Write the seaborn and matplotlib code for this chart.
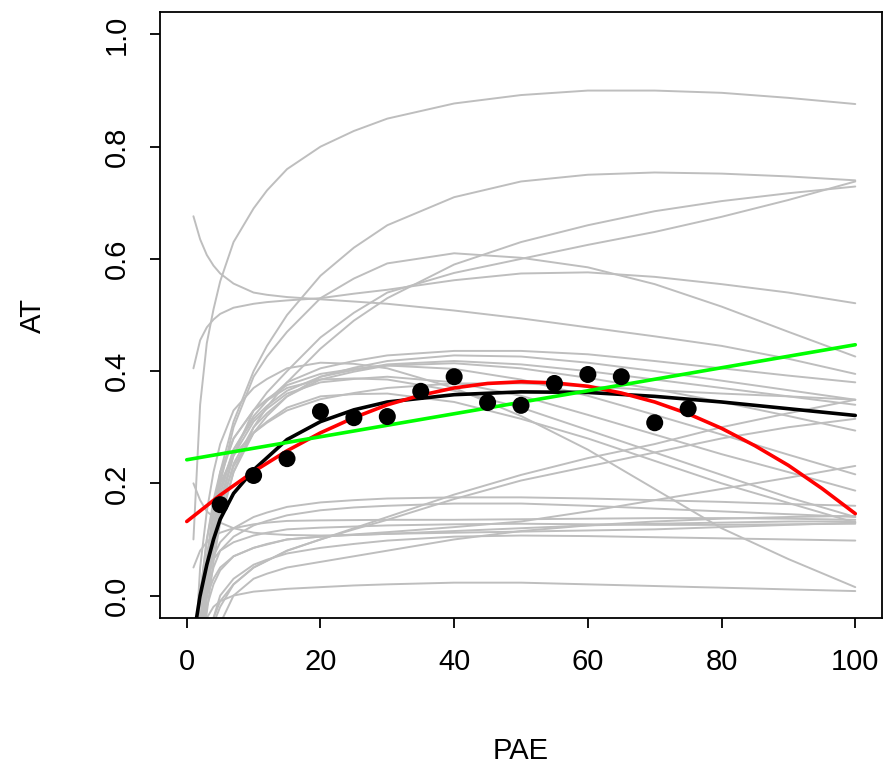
import matplotlib
matplotlib.use("Agg")
import matplotlib.pyplot as plt
import pandas as pd
import seaborn as sns

# observed points
pae_obs = [5, 10, 15, 20, 25, 30, 35, 40, 45, 50, 55, 60, 65, 70, 75]
at_obs = [0.162, 0.214, 0.244, 0.328, 0.317, 0.319, 0.364, 0.390, 0.344,
          0.339, 0.378, 0.394, 0.390, 0.308, 0.333]

# black fitted curve
black_x = [1.4, 2, 3, 4, 5, 7, 10, 15, 20, 25, 30, 40, 50, 60, 70, 80, 90, 100]
black_y = [-0.045, 0.0, 0.055, 0.100, 0.136, 0.182, 0.224, 0.278, 0.310, 0.331,
           0.345, 0.358, 0.363, 0.362, 0.355, 0.345, 0.333, 0.321]

# red fitted curve
red_x = [0, 5, 10, 15, 20, 25, 30, 35, 40, 45, 50, 55, 60, 65, 70, 75, 80, 85, 90, 95, 100]
red_y = [0.132, 0.179, 0.221, 0.258, 0.290, 0.317, 0.340, 0.357, 0.370, 0.378, 0.381,
         0.379, 0.373, 0.361, 0.345, 0.324, 0.298, 0.267, 0.232, 0.191, 0.146]

# green fitted line
green_x = [0, 100]
green_y = [0.242, 0.447]

# grey curves, read on a common x grid
grey_x = [1, 2, 3, 4, 5, 7, 10, 12, 15, 20, 25, 30, 40, 50, 60, 70, 80, 90, 100]
g01 = [0.10, 0.34, 0.45, 0.51, 0.56, 0.63, 0.69, 0.722, 0.76, 0.80, 0.828, 0.85, 0.877, 0.892, 0.900, 0.900, 0.896, 0.887, 0.876]
g02 = [-0.30, -0.08, 0.06, 0.15, 0.22, 0.31, 0.40, 0.445, 0.50, 0.57, 0.62, 0.66, 0.71, 0.738, 0.750, 0.754, 0.752, 0.747, 0.740]
g03 = [-0.35, -0.12, 0.0, 0.08, 0.14, 0.22, 0.30, 0.336, 0.38, 0.44, 0.49, 0.53, 0.59, 0.63, 0.66, 0.685, 0.703, 0.717, 0.729]
g04 = [-0.35, -0.12, 0.0, 0.09, 0.16, 0.25, 0.33, 0.362, 0.40, 0.46, 0.504, 0.54, 0.575, 0.60, 0.625, 0.648, 0.675, 0.705, 0.738]
g05 = [-0.35, -0.12, 0.02, 0.12, 0.20, 0.30, 0.39, 0.426, 0.47, 0.53, 0.565, 0.592, 0.610, 0.602, 0.585, 0.555, 0.515, 0.470, 0.426]
g06 = [0.405, 0.455, 0.478, 0.492, 0.502, 0.513, 0.520, 0.523, 0.526, 0.530, 0.538, 0.545, 0.562, 0.574, 0.576, 0.568, 0.555, 0.540, 0.521]
g07 = [0.676, 0.635, 0.607, 0.588, 0.574, 0.556, 0.540, 0.536, 0.532, 0.528, 0.524, 0.520, 0.508, 0.494, 0.478, 0.462, 0.445, 0.422, 0.395]
g08 = [-0.30, -0.10, 0.03, 0.12, 0.18, 0.26, 0.32, 0.347, 0.38, 0.405, 0.418, 0.428, 0.436, 0.436, 0.430, 0.418, 0.405, 0.392, 0.380]
g09 = [-0.38, -0.16, -0.03, 0.06, 0.13, 0.22, 0.29, 0.320, 0.355, 0.39, 0.406, 0.418, 0.428, 0.426, 0.415, 0.400, 0.383, 0.366, 0.349]
g10 = [-0.25, -0.05, 0.06, 0.14, 0.19, 0.26, 0.315, 0.338, 0.365, 0.39, 0.402, 0.412, 0.418, 0.412, 0.400, 0.385, 0.370, 0.355, 0.340]
g11 = [-0.32, -0.12, 0.01, 0.09, 0.15, 0.235, 0.30, 0.325, 0.355, 0.385, 0.399, 0.41, 0.414, 0.405, 0.388, 0.368, 0.345, 0.320, 0.294]
g12 = [-0.20, 0.0, 0.10, 0.17, 0.22, 0.28, 0.33, 0.350, 0.375, 0.395, 0.404, 0.410, 0.404, 0.385, 0.356, 0.322, 0.287, 0.251, 0.216]
g13 = [-0.30, -0.10, 0.03, 0.11, 0.17, 0.25, 0.31, 0.333, 0.36, 0.38, 0.386, 0.39, 0.380, 0.356, 0.322, 0.287, 0.252, 0.220, 0.187]
g14 = [-0.15, 0.05, 0.15, 0.22, 0.27, 0.33, 0.37, 0.386, 0.405, 0.415, 0.413, 0.405, 0.370, 0.320, 0.260, 0.190, 0.120, 0.065, 0.015]
g15 = [-0.25, -0.05, 0.07, 0.15, 0.21, 0.28, 0.33, 0.348, 0.37, 0.385, 0.387, 0.385, 0.365, 0.335, 0.295, 0.255, 0.215, 0.175, 0.140]
g16 = [-0.30, -0.10, 0.02, 0.10, 0.16, 0.23, 0.29, 0.310, 0.335, 0.355, 0.359, 0.360, 0.345, 0.315, 0.280, 0.240, 0.200, 0.165, 0.130]
g17 = [-0.20, 0.0, 0.10, 0.16, 0.20, 0.25, 0.29, 0.308, 0.33, 0.35, 0.361, 0.370, 0.378, 0.378, 0.373, 0.366, 0.360, 0.355, 0.349]
g18 = [-0.30, -0.15, -0.08, -0.04, -0.01, 0.02, 0.05, 0.062, 0.08, 0.10, 0.120, 0.14, 0.18, 0.215, 0.245, 0.270, 0.300, 0.325, 0.349]
g19 = [-0.40, -0.20, -0.10, -0.05, -0.02, 0.02, 0.05, 0.062, 0.08, 0.10, 0.118, 0.135, 0.172, 0.205, 0.230, 0.255, 0.280, 0.300, 0.315]
g20 = [-0.20, -0.05, 0.0, 0.03, 0.05, 0.07, 0.085, 0.091, 0.10, 0.105, 0.109, 0.113, 0.122, 0.132, 0.150, 0.170, 0.190, 0.210, 0.231]
g21 = [0.20, 0.17, 0.15, 0.14, 0.13, 0.12, 0.112, 0.110, 0.108, 0.107, 0.108, 0.110, 0.115, 0.120, 0.125, 0.128, 0.130, 0.132, 0.132]
g22 = [-0.20, -0.05, 0.03, 0.07, 0.095, 0.12, 0.14, 0.148, 0.158, 0.166, 0.170, 0.173, 0.175, 0.175, 0.173, 0.170, 0.167, 0.163, 0.160]
g23 = [-0.25, -0.08, 0.0, 0.05, 0.08, 0.105, 0.125, 0.133, 0.143, 0.152, 0.157, 0.160, 0.164, 0.164, 0.160, 0.155, 0.150, 0.145, 0.140]
g24 = [0.05, 0.08, 0.095, 0.105, 0.112, 0.12, 0.127, 0.130, 0.133, 0.134, 0.1345, 0.135, 0.135, 0.136, 0.137, 0.138, 0.138, 0.137, 0.135]
g25 = [-0.10, 0.0, 0.04, 0.065, 0.08, 0.095, 0.107, 0.112, 0.118, 0.121, 0.123, 0.125, 0.127, 0.128, 0.127, 0.126, 0.126, 0.127, 0.128]
g26 = [-0.30, -0.10, -0.02, 0.02, 0.045, 0.07, 0.085, 0.092, 0.10, 0.105, 0.108, 0.110, 0.112, 0.114, 0.116, 0.118, 0.122, 0.126, 0.130]
g27 = [-0.40, -0.20, -0.10, -0.04, 0.0, 0.03, 0.055, 0.064, 0.075, 0.085, 0.092, 0.098, 0.105, 0.107, 0.106, 0.104, 0.102, 0.100, 0.098]
g28 = [-0.45, -0.25, -0.15, -0.09, -0.05, 0.0, 0.03, 0.039, 0.05, 0.06, 0.070, 0.08, 0.10, 0.115, 0.125, 0.132, 0.137, 0.140, 0.142]
g29 = [-0.20, -0.08, -0.04, -0.02, -0.01, 0.0, 0.007, 0.009, 0.012, 0.015, 0.018, 0.020, 0.023, 0.023, 0.020, 0.017, 0.014, 0.011, 0.008]
grey_curves = [g01, g02, g03, g04, g05, g06, g07, g08, g09, g10, g11, g12, g13, g14, g15,
               g16, g17, g18, g19, g20, g21, g22, g23, g24, g25, g26, g27, g28, g29]

x_ticks = [0, 20, 40, 60, 80, 100]
y_ticks = [0.0, 0.2, 0.4, 0.6, 0.8, 1.0]
y_tick_labels = ["0.0", "0.2", "0.4", "0.6", "0.8", "1.0"]

sns.set_theme(style="ticks")
plt.rcParams["font.family"] = ["Liberation Sans", "DejaVu Sans"]
plt.rcParams["axes.labelcolor"] = "black"
plt.rcParams["text.color"] = "black"

df_grey = pd.DataFrame(
    [(x, y, i) for i, c in enumerate(grey_curves) for x, y in zip(grey_x, c)],
    columns=["PAE", "AT", "curve"],
)

fig = plt.figure(figsize=(8.86, 7.70), dpi=100)
ax = fig.add_axes([0.1806, 0.1974, 0.8149, 0.7870])

sns.lineplot(data=df_grey, x="PAE", y="AT", units="curve", estimator=None,
             sort=False, color="#BEBEBE", linewidth=1.4, ax=ax)
sns.lineplot(x=black_x, y=black_y, color="black", linewidth=2.6, sort=False,
             estimator=None, ax=ax, solid_capstyle="round")
sns.lineplot(x=red_x, y=red_y, color="#FF0000", linewidth=2.6, sort=False,
             estimator=None, ax=ax, solid_capstyle="round")
sns.lineplot(x=green_x, y=green_y, color="#00FF00", linewidth=2.6, sort=False,
             estimator=None, ax=ax, solid_capstyle="round")
sns.scatterplot(x=pae_obs, y=at_obs, color="black", s=150, edgecolor="none",
                ax=ax, zorder=5)

ax.set_xlim(-4, 104)
ax.set_ylim(-0.04, 1.04)
ax.set_xticks(x_ticks)
ax.set_yticks(y_ticks)
ax.set_yticklabels(y_tick_labels, rotation=90, va="center")
for s in ax.spines.values():
    s.set_visible(True)
    s.set_linewidth(1.3)
    s.set_color("black")
ax.tick_params(axis="both", length=7.2, width=1.3, labelsize=21, color="black",
               labelcolor="black")
ax.tick_params(axis="x", pad=14.5)
ax.tick_params(axis="y", pad=14)
ax.set_xlabel("PAE", fontsize=21, labelpad=43.5, color="black")
ax.set_ylabel("AT", fontsize=21, labelpad=40, color="black")

fig.savefig("out.png", dpi=100)
